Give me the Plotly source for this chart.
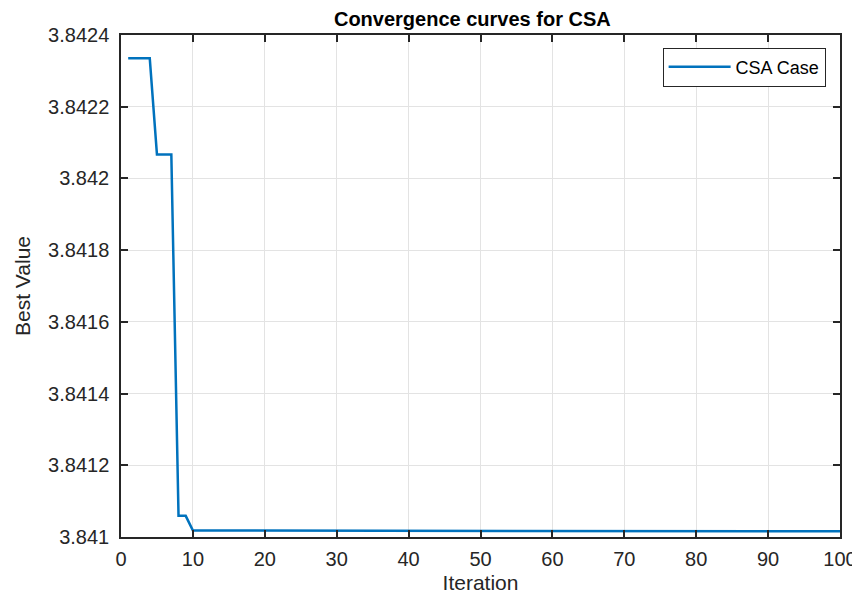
import plotly.graph_objects as go

iterations = list(range(1, 101))
best_values = ([3.842335] * 4 + [3.842067] * 3 + [3.841059] * 2
               + [3.841018] * 5 + [3.841016] * 86)

x_ticks = [0, 10, 20, 30, 40, 50, 60, 70, 80, 90, 100]
y_ticks = [3.841, 3.8412, 3.8414, 3.8416, 3.8418, 3.842, 3.8422, 3.8424]
y_tick_labels = ["3.841", "3.8412", "3.8414", "3.8416", "3.8418", "3.842", "3.8422", "3.8424"]

FONT = "Liberation Sans, Arial"
fig = go.Figure()
fig.add_trace(go.Scatter(x=iterations, y=best_values, mode="lines", name="CSA Case",
                         line=dict(color="#0072BD", width=2.5)))

axis_common = dict(showline=True, linecolor="#262626", linewidth=1.5, mirror="ticks",
                   ticks="inside", ticklen=7, tickcolor="#262626", tickwidth=1.5,
                   showgrid=True, gridcolor="#E3E3E3", gridwidth=1, zeroline=False,
                   automargin=False,
                   tickfont=dict(family=FONT, size=20, color="#262626"))

fig.update_layout(
    width=852, height=589,
    margin=dict(l=113, r=20, t=27, b=60),
    paper_bgcolor="white", plot_bgcolor="white",
    title=dict(text="<b>Convergence curves for CSA</b>", x=0.545, xanchor="center",
               y=0.982, yanchor="middle", font=dict(family=FONT, size=20, color="black")),
    xaxis=dict(range=[0, 100], tickvals=x_ticks, ticklabelstandoff=3,
               title=dict(text="Iteration", standoff=7,
               font=dict(family=FONT, size=21, color="#262626")), **axis_common),
    yaxis=dict(range=[3.841, 3.8424], tickvals=y_ticks, ticktext=y_tick_labels,
               ticklabelstandoff=6,
               title=dict(text="Best Value", standoff=12,
               font=dict(family=FONT, size=21, color="#262626")), **axis_common),
    legend=dict(x=0.98, y=0.975, xanchor="right", yanchor="top", bgcolor="white",
                bordercolor="#262626", borderwidth=1, itemwidth=62,
                font=dict(family=FONT, size=18, color="black")),
    showlegend=True,
)

fig.write_html("out.html")
